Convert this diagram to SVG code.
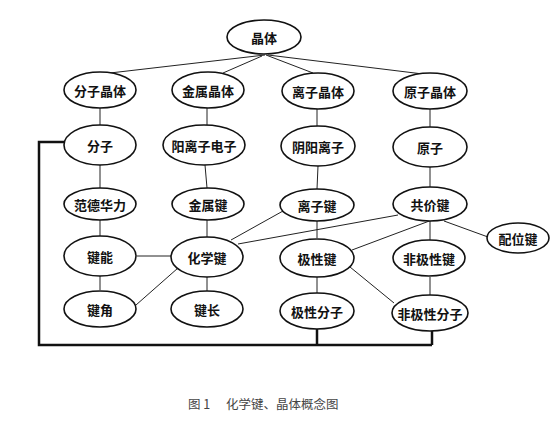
<svg xmlns="http://www.w3.org/2000/svg" width="553" height="428" viewBox="0 0 553 428">
<style>
.n ellipse{fill:#fff;stroke:#111;stroke-width:1.6}
.n text{font-family:"Noto Sans CJK SC",sans-serif;font-size:13px;font-weight:bold;fill:#111;text-anchor:middle;dominant-baseline:central}
.c line,.c polyline{stroke:#222;stroke-width:1;fill:none}
.c .thick{stroke:#111;stroke-width:2.5}
.cap{font-family:"Noto Sans CJK SC",sans-serif;font-size:12.5px;fill:#444}
</style>
<rect width="553" height="428" fill="#fff"/>
<g class="c">
<line x1="265" y1="55" x2="110" y2="73"/>
<line x1="262" y1="56" x2="223" y2="73"/>
<line x1="266" y1="55" x2="313" y2="73"/>
<line x1="268" y1="55" x2="423" y2="74"/>
<line x1="100" y1="108" x2="100" y2="125"/>
<line x1="100" y1="165" x2="100" y2="188"/>
<line x1="100" y1="219" x2="100" y2="236"/>
<line x1="100" y1="276" x2="100" y2="290"/>
<line x1="137" y1="256" x2="171" y2="256"/>
<line x1="136" y1="305" x2="178" y2="268"/>
<line x1="207" y1="108" x2="207" y2="125"/>
<line x1="205" y1="165" x2="207" y2="188"/>
<line x1="207" y1="219" x2="207" y2="237"/>
<line x1="207" y1="277" x2="207" y2="291"/>
<line x1="231" y1="240" x2="283" y2="211"/>
<line x1="238" y1="244" x2="398" y2="215"/>
<line x1="317" y1="109" x2="317" y2="126"/>
<line x1="318" y1="166" x2="317" y2="189"/>
<line x1="317" y1="220" x2="317" y2="238"/>
<line x1="317" y1="277" x2="317" y2="293"/>
<line x1="350" y1="267" x2="394" y2="303"/>
<line x1="430" y1="109" x2="430" y2="127"/>
<line x1="430" y1="167" x2="430" y2="188"/>
<line x1="432" y1="220" x2="352" y2="250"/>
<line x1="430" y1="221" x2="430" y2="240"/>
<line x1="444" y1="221" x2="488" y2="237"/>
<line x1="430" y1="277" x2="430" y2="295"/>
<polyline class="thick" points="64,142 39,142 39,345 432,345"/>
<line class="thick" x1="317" y1="328" x2="317" y2="345"/>
<line class="thick" x1="432" y1="331" x2="432" y2="345"/>
</g>
<g class="n" id="jingti"><ellipse cx="264" cy="37" rx="37" ry="17"/><text x="264" y="37">晶体</text></g>
<g class="n" id="fenzijingti"><ellipse cx="100" cy="90" rx="36" ry="18"/><text x="100" y="90">分子晶体</text></g>
<g class="n" id="jinshujingti"><ellipse cx="208" cy="90" rx="36" ry="18"/><text x="208" y="90">金属晶体</text></g>
<g class="n" id="lizijingti"><ellipse cx="318" cy="91" rx="36" ry="18"/><text x="318" y="91">离子晶体</text></g>
<g class="n" id="yuanzijingti"><ellipse cx="430" cy="91" rx="37" ry="18"/><text x="430" y="91">原子晶体</text></g>
<g class="n" id="fenzi"><ellipse cx="100" cy="145" rx="36" ry="20"/><text x="100" y="145">分子</text></g>
<g class="n" id="yanglizidianzi"><ellipse cx="204" cy="145" rx="41" ry="20"/><text x="204" y="145">阳离子电子</text></g>
<g class="n" id="yinyanglizi"><ellipse cx="318" cy="146" rx="37" ry="20"/><text x="318" y="146">阴阳离子</text></g>
<g class="n" id="yuanzi"><ellipse cx="430" cy="147" rx="37" ry="20"/><text x="430" y="147">原子</text></g>
<g class="n" id="fandehuali"><ellipse cx="100" cy="204" rx="36" ry="16"/><text x="100" y="204">范德华力</text></g>
<g class="n" id="jinshujian"><ellipse cx="208" cy="204" rx="36" ry="16"/><text x="208" y="204">金属键</text></g>
<g class="n" id="lizijian"><ellipse cx="317" cy="205" rx="37" ry="16"/><text x="317" y="205">离子键</text></g>
<g class="n" id="gongjiajian"><ellipse cx="430" cy="204" rx="37" ry="17"/><text x="430" y="204">共价键</text></g>
<g class="n" id="peiweijian"><ellipse cx="518" cy="238" rx="31" ry="15"/><text x="518" y="238">配位键</text></g>
<g class="n" id="jianneng"><ellipse cx="100" cy="256" rx="36" ry="20"/><text x="100" y="256">键能</text></g>
<g class="n" id="huaxuejian"><ellipse cx="207" cy="257" rx="36" ry="20"/><text x="207" y="257">化学键</text></g>
<g class="n" id="jixingjian"><ellipse cx="317" cy="258" rx="37" ry="19"/><text x="317" y="258">极性键</text></g>
<g class="n" id="feijixingjian"><ellipse cx="429" cy="258" rx="36" ry="18"/><text x="429" y="258">非极性键</text></g>
<g class="n" id="jianjiao"><ellipse cx="100" cy="309" rx="36" ry="18"/><text x="100" y="309">键角</text></g>
<g class="n" id="jianchang"><ellipse cx="207" cy="309" rx="36" ry="18"/><text x="207" y="309">键长</text></g>
<g class="n" id="jixingfenzi"><ellipse cx="317" cy="311" rx="37" ry="18"/><text x="317" y="311">极性分子</text></g>
<g class="n" id="feijixingfenzi"><ellipse cx="430" cy="313" rx="38" ry="18"/><text x="430" y="313">非极性分子</text></g>
<text class="cap" x="188" y="409">图 1<tspan x="226">化学键、晶体概念图</tspan></text>
</svg>
